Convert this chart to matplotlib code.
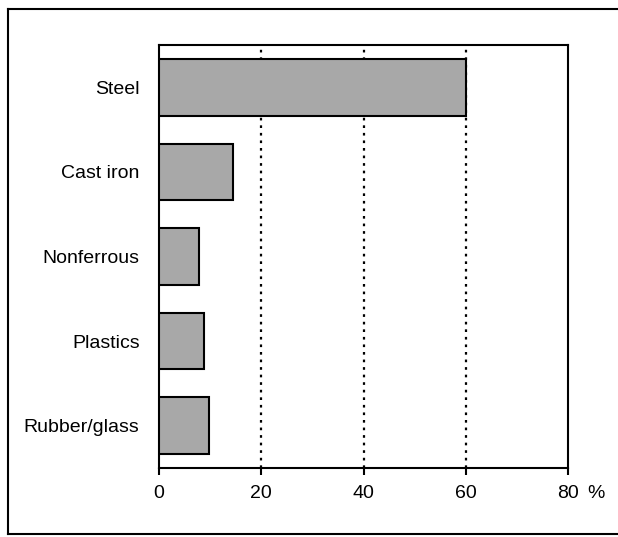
import matplotlib
matplotlib.use("Agg")
import matplotlib.pyplot as plt
from matplotlib.lines import Line2D

plt.rcParams["font.family"] = ["Liberation Sans", "DejaVu Sans"]

# share of vehicle weight by material, %
materials = ["Steel", "Cast iron", "Nonferrous", "Plastics", "Rubber/glass"]
shares = [60, 14.5, 7.9, 8.8, 9.8]
xticks = [0, 20, 40, 60, 80]
xtick_labels = ["0", "20", "40", "60", "80"]

W, H = 618, 537
fig = plt.figure(figsize=(W / 100, H / 100), dpi=100, facecolor="white")
ax = fig.add_axes([159 / W, 1 - 468 / H, 409 / W, 423 / H])

ypos = list(range(len(materials)))
ax.barh(ypos, shares, height=0.67, color="#a8a8a8", edgecolor="black", lw=1.5, zorder=3)

ax.set_xlim(0, 80)
ax.set_ylim(len(materials) - 0.5, -0.5)
ax.set_yticks(ypos)
ax.set_yticklabels(materials, fontsize=14)
ax.tick_params(axis="y", length=0, pad=14)
ax.set_xticks(xticks)
ax.set_xticklabels(xtick_labels, fontsize=14)
ax.tick_params(axis="x", direction="out", length=5, width=1.5, pad=7)

for x in xticks[1:-1]:
    ax.axvline(x, color="black", lw=1.6, ls=(0, (1.2, 2.2)), zorder=1)

for s in ax.spines.values():
    s.set_linewidth(1.5)

# percent sign after the last tick label, on the same line as the tick labels
ax.annotate("%", xy=(80, 0), xycoords=("data", "axes fraction"),
            xytext=(13.5, -12), textcoords="offset points",
            ha="left", va="top", fontsize=14)

# outer frame (right side falls outside the picture)
def px(x, y):
    return x / W, 1 - y / H

for (x0, y0), (x1, y1) in [((8, 9), (W + 5, 9)), ((8, 9), (8, 534)), ((8, 534), (W + 5, 534))]:
    (a, b), (c, d) = px(x0, y0), px(x1, y1)
    fig.add_artist(Line2D([a, c], [b, d], color="black", lw=1.5))

fig.savefig("out.png", dpi=100)
